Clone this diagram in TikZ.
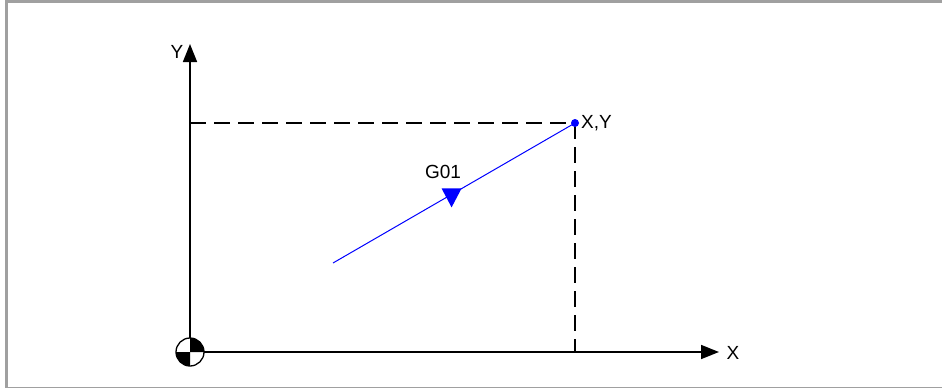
\documentclass[tikz,border=0pt]{standalone}
\usepackage{fontspec}
\setmainfont{Liberation Sans}
\usetikzlibrary{calc, arrows.meta}

\tikzset{
    axis/.style = {line width=1.6pt, -{Triangle[length=18pt, width=14pt]}},
    guide/.style = {line width=1.4pt, dash pattern=on 16pt off 8pt},
    path/.style = {blue, line width=1pt},
    lbl/.style = {font=\fontsize{19}{21}\selectfont, inner sep=0pt}
}

\begin{document}
\begin{tikzpicture}[x=1pt, y=-1pt]
    \def\rad{14pt}

    \useasboundingbox (0,0) rectangle (942,388);
    %frame
    \draw[color={rgb,255:red,160;green,160;blue,160}, line width=2.6pt] (942,1.3) -- (6.2,1.3) -- (6.2,388);
    \draw[color={rgb,255:red,160;green,160;blue,160}, line width=1.5pt] (6.2,387.3) -- (942,387.3);

    \coordinate (O) at (190,352);
    \coordinate (P) at (575,123);
    \coordinate (S) at (333,263);
    \coordinate (Yend) at (190,44);
    \coordinate (Xend) at (719,352);

    %axes
    \draw[axis] (O) -- (Yend);
    \draw[axis] (O) -- (Xend);
    \node[lbl] (ylabel) at (177,52) {Y};
    \node[lbl] (xlabel) at (733,353) {X};

    %guides
    \draw[guide] (O |- P) -- (P);
    \draw[guide] (P) -- (P |- O);

    %origin mark
    \fill[white] (O) circle[radius=\rad];
    \fill (O) -- ++(0:\rad) arc[start angle=0, end angle=90, radius=\rad] -- cycle;
    \fill (O) -- ++(180:\rad) arc[start angle=180, end angle=270, radius=\rad] -- cycle;
    \draw[line width=1.3pt] (O) circle[radius=\rad];

    %G01 move
    \draw[path] (S) -- (P);
    \fill[blue] (P) circle[radius=4pt];
    \fill[blue] ($(S)!0.49!(P)$) coordinate (M) ++(-10,-6) -- ++(20,0) -- ($(M)+(0,13)$) -- cycle;
    \node[lbl] (g) at (443,172) {G01};
    \node[lbl, anchor=west] (pt) at (581,123) {X,Y};
\end{tikzpicture}
\end{document}
